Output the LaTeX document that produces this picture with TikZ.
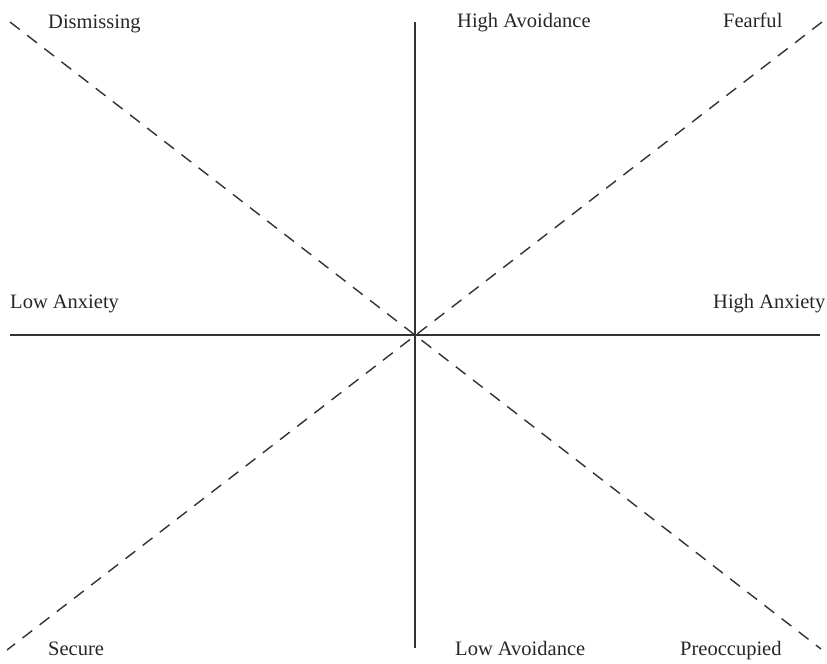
\documentclass[tikz,border=0pt]{standalone}
\usepackage{fontspec}
\setmainfont{Liberation Serif}
\usepackage{tikz}

\tikzset{
  axis/.style={line width=1.2pt, draw=black!80},
  diag/.style={line width=1.2pt, draw=black!80, dash pattern=on 10.5pt off 8pt},
  lbl/.style={anchor=base west, inner sep=0pt, text=black!85, font=\fontsize{17.5}{20}\selectfont}
}

\begin{document}
\begin{tikzpicture}[x=0.03cm,y=-0.03cm]
                \useasboundingbox (0,0) rectangle (827,664);

                % ends of the axes and the diagonals
                \coordinate (c) at (415,335);
                \coordinate (top) at (415,22);
                \coordinate (bot) at (415,648);
                \coordinate (left) at (10,335);
                \coordinate (right) at (820,335);
                \coordinate (tl) at (10,22);
                \coordinate (br) at (821,649);
                \coordinate (tr) at (822,22);
                \coordinate (bl) at (7,650);

                \draw[axis] (top) -- (bot);
                \draw[axis] (left) -- (right);
                \draw[diag] (tl) -- (br);
                \draw[diag] (tr) -- (bl);

                \node[lbl] (dism) at (48,28) {Dismissing};
                \node[lbl] (hiav) at (457,27) {High Avoidance};
                \node[lbl] (fear) at (723,27) {Fearful};
                \node[lbl] (loanx) at (10,308) {Low Anxiety};
                \node[lbl] (hianx) at (713,308) {High Anxiety};
                \node[lbl] (sec) at (48,655) {Secure};
                \node[lbl] (loav) at (455,655) {Low Avoidance};
                \node[lbl] (preo) at (680,655) {Preoccupied};
            \end{tikzpicture}
\end{document}
